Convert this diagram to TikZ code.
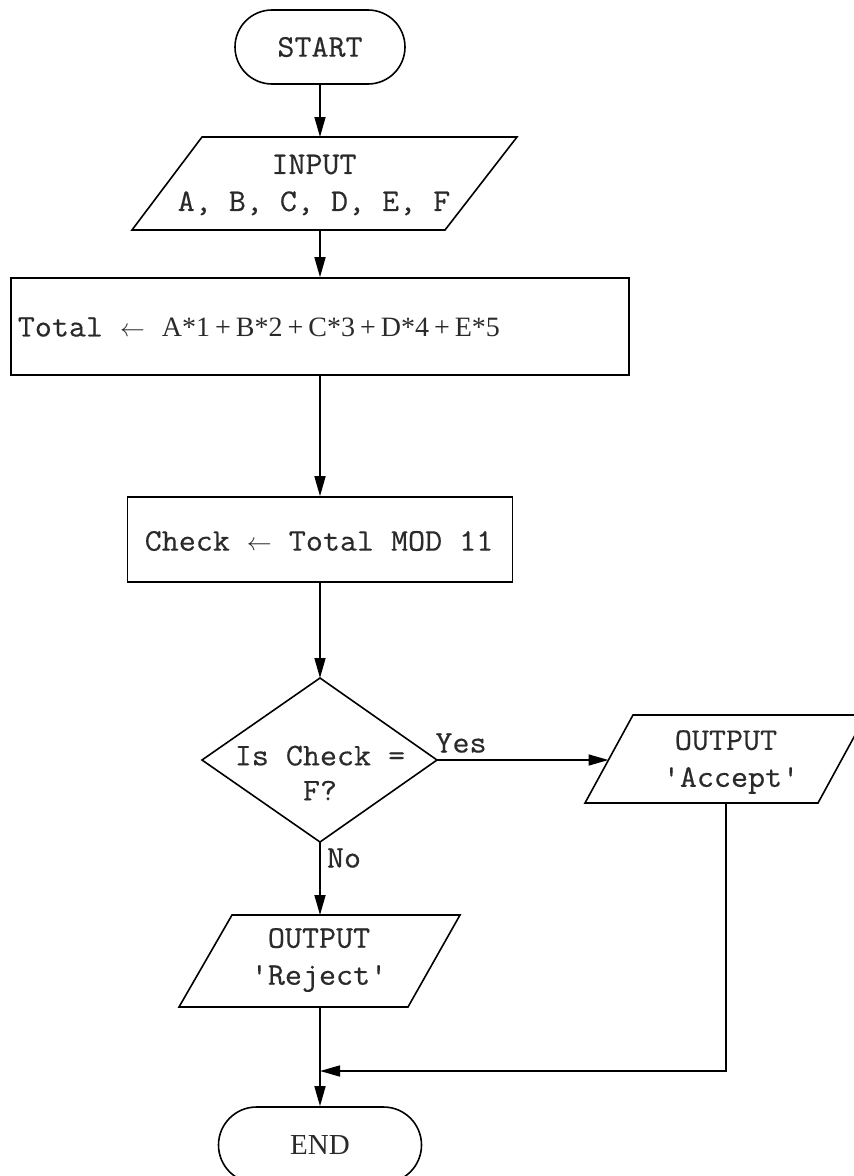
\documentclass[tikz,border=0pt]{standalone}
\usepackage{fontspec}
\setmainfont{Liberation Serif}
\setmonofont[FakeStretch=1.05,FakeBold=0.45]{Latin Modern Mono}
\usetikzlibrary{shapes.misc,arrows.meta}
\definecolor{txt}{HTML}{2A2A2A}
\newcommand{\larr}{$\leftarrow$}
\newcommand{\ps}{\hspace*{5pt}+\hspace*{5pt}}
\begin{document}
\begin{tikzpicture}[x=1pt,y=-1pt, line width=1.6pt,
  every node/.style={text=txt, font=\ttfamily\fontsize{31.5}{37}\selectfont},
  term/.style={draw=black, rounded rectangle, inner sep=0pt},
  proc/.style={draw=black, rectangle, inner sep=0pt},
  lbl/.style={inner sep=0pt},
  arr/.style={-{Triangle[length=20pt,width=11pt]}}]
\useasboundingbox (0,0) rectangle (854,1176);

% START
\node[term, minimum width=170pt, minimum height=74pt] (start) at (320,47) {START};

% INPUT
\coordinate (inTL) at (202,137);
\coordinate (inTR) at (517,137);
\coordinate (inBR) at (445,230);
\coordinate (inBL) at (132,230);
\draw (inTL) -- (inTR) -- (inBR) -- (inBL) -- cycle;
\coordinate (inT) at (320,137);
\coordinate (inB) at (320,230);
\node[lbl, align=center] (input) at (314,185) {INPUT\\A, B, C, D, E, F};

% Total
\node[proc, minimum width=618pt, minimum height=97pt] (total) at (320,326.5) {};
\node[lbl, anchor=west] (totaltxt) at (17,327) {Total \larr{}\hspace*{17pt}{\rmfamily\fontsize{28}{30}\selectfont A*1\ps B*2\ps C*3\ps D*4\ps E*5}};

% Check
\node[proc, minimum width=385pt, minimum height=85pt] (check) at (320,539.5) {};
\node[lbl] (checktxt) at (319,541) {Check \larr{} Total MOD 11};

% Decision
\coordinate (dT) at (320,678);
\coordinate (dR) at (437,760);
\coordinate (dB) at (320,842);
\coordinate (dL) at (202,760);
\draw (dT) -- (dR) -- (dB) -- (dL) -- cycle;
\node[lbl, align=center, font=\ttfamily\fontsize{31.5}{35}\selectfont] (dtxt) at (320,773) {Is Check =\\F?};

% Accept
\coordinate (acTL) at (633,715);
\coordinate (acTR) at (866,715);
\coordinate (acBR) at (818,803);
\coordinate (acBL) at (585,803);
\draw (acTL) -- (acTR) -- (acBR) -- (acBL) -- cycle;
\coordinate (acL) at (608.5,760);
\coordinate (acB) at (726,803);
\node[lbl, align=center] (accept) at (726,762) {OUTPUT\\\hspace*{10pt}'Accept'};

% Reject
\coordinate (rjTL) at (232,915);
\coordinate (rjTR) at (460,915);
\coordinate (rjBR) at (408,1007);
\coordinate (rjBL) at (179,1007);
\draw (rjTL) -- (rjTR) -- (rjBR) -- (rjBL) -- cycle;
\coordinate (rjT) at (320,915);
\coordinate (rjB) at (320,1007);
\node[lbl, align=center] (reject) at (319,960) {OUTPUT\\'Reject'};

% END
\node[term, minimum width=203pt, minimum height=76pt, font=\rmfamily\fontsize{29}{30}\selectfont] (end) at (320,1145) {END};

% labels
\node[lbl] (yes) at (461,743) {Yes};
\node[lbl] (no) at (344,858) {No};

% connectors
\coordinate (merge) at (320,1071);
\draw[arr] (start) -- (inT);
\draw[arr] (inB) -- (total);
\draw[arr] (total) -- (check);
\draw[arr] (check) -- (dT);
\draw[arr] (dR) -- (acL);
\draw[arr] (dB) -- (rjT);
\draw[arr] (rjB) -- (end);
\draw[arr] (acB) |- (merge);
\end{tikzpicture}
\end{document}
